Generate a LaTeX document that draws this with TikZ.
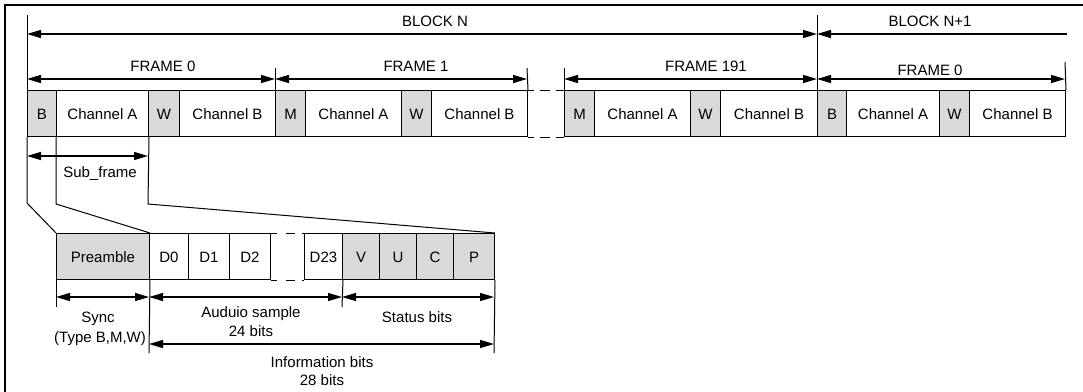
\documentclass[tikz,border=0pt]{standalone}
\usepackage{fontspec}
\setmainfont{Liberation Sans}
\usetikzlibrary{arrows.meta}
\tikzset{
  lbl/.style={inner sep=0pt, text height=11pt, text depth=0pt, font=\fontsize{15}{17}\selectfont},
  cell/.style={draw, line width=1pt, inner sep=0pt, minimum height=46pt, text height=11pt, text depth=0pt, font=\fontsize{15}{17}\selectfont, anchor=north west},
  graycell/.style={cell, fill=gray!30},
  dim/.style={line width=1.3pt, {Triangle[length=14pt,width=8pt]}-{Triangle[length=14pt,width=8pt]}},
  dimL/.style={line width=1.3pt, {Triangle[length=14pt,width=8pt]}-},
  tick/.style={line width=1pt},
  gapline/.style={line width=1pt},
  frameline/.style={line width=2.2pt}
}
\newcommand{\cellbox}[6]{% name, style, x1, x2, y, text
  \pgfmathsetmacro{\cw}{#4-#3}
  \node[#2, minimum width=\cw pt] (#1) at (#3,#5) {#6};
}
\begin{document}
\begin{tikzpicture}[x=1pt,y=-1pt]
\useasboundingbox (0,0) rectangle (1083,391);
\draw[frameline] (5,395) -- (5,5) -- (1090,5);

% top row
\cellbox{B1}{graycell}{27}{56}{90}{B}
\cellbox{A1}{cell}{56}{148}{90}{Channel A}
\cellbox{W1}{graycell}{148}{179}{90}{W}
\cellbox{C1}{cell}{179}{275}{90}{Channel B}
\cellbox{M2}{graycell}{275}{305}{90}{M}
\cellbox{A2}{cell}{305}{401}{90}{Channel A}
\cellbox{W2}{graycell}{401}{431}{90}{W}
\cellbox{C2}{cell}{431}{527}{90}{Channel B}
\cellbox{M3}{graycell}{564}{594}{90}{M}
\cellbox{A3}{cell}{594}{690}{90}{Channel A}
\cellbox{W3}{graycell}{690}{720}{90}{W}
\cellbox{C3}{cell}{720}{817}{90}{Channel B}
\cellbox{B4}{graycell}{817}{846}{90}{B}
\cellbox{A4}{cell}{846}{939}{90}{Channel A}
\cellbox{W4}{graycell}{939}{969}{90}{W}
\cellbox{C4}{cell}{969}{1065}{90}{Channel B}

% gap dashes top row
\draw[gapline] (C2.north east) -- ++(6,0) ++(6,0) -- ++(10,0) ++(6,0) -- (M3.north west);
\draw[gapline] (C2.south east) -- ++(6,0) ++(6,0) -- ++(10,0) ++(6,0) -- (M3.south west);

% block / frame coordinates
\coordinate (blkTop) at (27,15);
\coordinate (blkL) at (27,34);
\coordinate (blkM) at (817,34);
\coordinate (blkR) at (1067,34);
\coordinate (blkMtop) at (817,15);
\draw[tick] (blkTop) -- (B1.north west);
\draw[tick] (blkMtop) -- (B4.north west);
\draw[dim] (blkL) -- (blkM);
\draw[dimL] (blkM) -- (blkR);
\node[lbl] (tBN) at (435,21) {BLOCK N};
\node[lbl] (tBN1) at (930,21) {BLOCK N+1};

% frame ticks
\coordinate (f1t) at (275,68);
\coordinate (f2t) at (527,68);
\coordinate (f3t) at (564,68);
\coordinate (f4t) at (1065,62);
\draw[tick] (f1t) -- (M2.north west);
\draw[tick] (f2t) -- (C2.north east);
\draw[tick] (f3t) -- (M3.north west);
\draw[tick] (f4t) -- (C4.north east);
\coordinate (fa0) at (27,79);
\coordinate (fa1) at (275,79);
\coordinate (fa2) at (527,79);
\coordinate (fa3) at (564,79);
\coordinate (fa4) at (817,79);
\coordinate (fa5) at (1065,79);
\draw[dim] (fa0) -- (fa1);
\draw[dim] (fa1) -- (fa2);
\draw[dim] (fa3) -- (fa4);
\draw[dim] (fa4) -- (fa5);
\node[lbl] (tF0) at (163,66) {FRAME 0};
\node[lbl] (tF1) at (416,66) {FRAME 1};
\node[lbl] (tF191) at (706,66) {FRAME 191};
\node[lbl] (tF0b) at (930,70) {FRAME 0};

% sub frame
\coordinate (sfL) at (27,156);
\coordinate (sfR) at (148,156);
\draw[dim] (sfL) -- (sfR);
\node[lbl] (tSF) at (100,172) {Sub\_frame};

% lower row
\cellbox{Pre}{graycell}{56}{149}{233}{Preamble}
\cellbox{D0}{cell}{149}{188}{233}{D0}
\cellbox{D1}{cell}{188}{229}{233}{D1}
\cellbox{D2}{cell}{229}{270}{233}{D2}
\cellbox{D23}{cell}{304}{342}{233}{D23}
\cellbox{V}{graycell}{342}{379}{233}{V}
\cellbox{U}{graycell}{379}{416}{233}{U}
\cellbox{Cc}{graycell}{416}{453}{233}{C}
\cellbox{P}{graycell}{453}{494}{233}{P}
\draw[gapline] (D2.north east) -- ++(6,0) ++(9,0) -- ++(9,0) ++(7,0) -- (D23.north west);
\draw[gapline] (D2.south east) -- ++(6,0) ++(9,0) -- ++(9,0) ++(7,0) -- (D23.south west);

% expansion lines
\coordinate (k0) at (27,203);
\coordinate (k1) at (56,204);
\coordinate (k2) at (148,204);
\draw[tick] (B1.south west) -- (k0) -- (Pre.north west);
\draw[tick] (A1.south west) -- (k1) -- (Pre.north east);
\draw[tick] (A1.south east) -- (k2) -- (P.north east);

% lower dimensions
\coordinate (v1) at (56,307);
\coordinate (v2) at (149,353);
\coordinate (v3) at (342,307);
\coordinate (v4) at (494,353);
\draw[tick] (Pre.south west) -- (v1);
\draw[tick] (Pre.south east) -- (v2);
\draw[tick] (D23.south east) -- (v3);
\draw[tick] (P.south east) -- (v4);
\coordinate (s0) at (56,297);
\coordinate (s1) at (149,297);
\coordinate (s2) at (342,297);
\coordinate (s3) at (494,297);
\draw[dim] (s0) -- (s1);
\draw[dim] (s1) -- (s2);
\draw[dim] (s2) -- (s3);
\coordinate (i0) at (149,344);
\coordinate (i1) at (494,344);
\draw[dim] (i0) -- (i1);

\node[lbl] (tSync) at (98,317) {Sync};
\node[lbl] (tType) at (100,337) {(Type B,M,W)};
\node[lbl] (tAud) at (251,312) {Auduio sample};
\node[lbl] (t24) at (251,331) {24 bits};
\node[lbl] (tStat) at (417,317) {Status bits};
\node[lbl] (tInfo) at (322,362) {Information bits};
\node[lbl] (t28) at (322,380) {28 bits};
\end{tikzpicture}
\end{document}
